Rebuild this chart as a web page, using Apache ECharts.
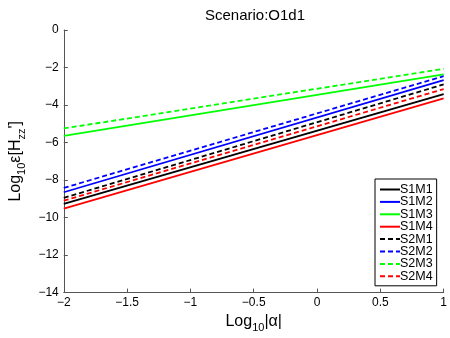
<!DOCTYPE html>
<html>
<head>
<meta charset="utf-8">
<script src="https://cdn.jsdelivr.net/npm/echarts@6/dist/echarts.min.js"></script>
<style>
  html, body { margin: 0; padding: 0; background: #fff; }
  #chart { width: 450px; height: 338px; }
</style>
</head>
<body>
<div id="chart"></div>
<script>
  // x positions (log10 |alpha|)
  var xValues = [-2, 1];
  var seriesNames = ['S1M1', 'S1M2', 'S1M3', 'S1M4', 'S2M1', 'S2M2', 'S2M3', 'S2M4'];
  // values at x=-2 and x=1
  var S1M1 = [-9.27, -3.42];
  var S1M2 = [-8.65, -2.67];
  var S1M3 = [-5.65, -2.37];
  var S1M4 = [-9.52, -3.65];
  var S2M1 = [-8.95, -2.90];
  var S2M2 = [-8.42, -2.46];
  var S2M3 = [-5.25, -2.07];
  var S2M4 = [-9.10, -3.15];
  var seriesValues = [S1M1, S1M2, S1M3, S1M4, S2M1, S2M2, S2M3, S2M4];
  var seriesColors = ['#000000', '#0000ff', '#00ff00', '#ff0000', '#000000', '#0000ff', '#00ff00', '#ff0000'];

  function minusFmt(v) {
    return String(v).replace('-', '\u2212');
  }

  var myChart = echarts.init(document.getElementById('chart'));

  var series = seriesNames.map(function (name, i) {
    return {
      name: name,
      type: 'line',
      symbol: 'none',
      silent: true,
      lineStyle: {
        color: seriesColors[i],
        width: 1.8,
        type: i < 4 ? 'solid' : [5, 3]
      },
      itemStyle: { color: seriesColors[i] },
      data: xValues.map(function (x, j) { return [x, seriesValues[i][j]]; })
    };
  });

  var option = {
    animation: false,
    textStyle: { fontFamily: 'Liberation Sans, Arial, sans-serif' },
    title: {
      text: 'Scenario:O1d1',
      left: 250,
      top: 3,
      textAlign: 'center',
      textStyle: { fontSize: 15, fontWeight: 'normal', color: '#000' }
    },
    grid: { left: 55, right: 5, top: 30, bottom: 41 },
    legend: {
      orient: 'vertical',
      left: 375,
      top: 179,
      padding: [4, 4, 3, 4],
      itemGap: -0.6,
      itemWidth: 20,
      itemHeight: 8,
      backgroundColor: '#fff',
      borderColor: '#000',
      borderWidth: 1,
      borderRadius: 0,
      itemStyle: { opacity: 0 },
      textStyle: { fontSize: 12.5, lineHeight: 11, color: '#000', padding: [0, 0, 0, -5] },
      data: seriesNames
    },
    xAxis: {
      type: 'value',
      min: -2,
      max: 1,
      interval: 0.5,
      name: '{b|Log}{s|10}{b||α|}',
      nameLocation: 'middle',
      nameGap: 17,
      nameTextStyle: {
        rich: {
          b: { fontSize: 16, color: '#000' },
          s: { fontSize: 11, color: '#000', padding: [12, 0, 0, 0] }
        }
      },
      axisLine: { onZero: false, lineStyle: { color: '#555', width: 1 } },
      axisTick: { inside: true, length: 4, lineStyle: { color: '#555' } },
      axisLabel: { color: '#000', fontSize: 12, margin: 4, formatter: minusFmt },
      splitLine: { show: false }
    },
    yAxis: {
      type: 'value',
      min: -14,
      max: 0,
      interval: 2,
      name: "{b|Log}{s|10}{b|ε[H}{s|zz}{b|']}",
      nameLocation: 'middle',
      nameGap: 30,
      nameTextStyle: {
        rich: {
          b: { fontSize: 16, color: '#000' },
          s: { fontSize: 11, color: '#000', padding: [12, 0, 0, 0] }
        }
      },
      axisLine: { show: true, onZero: false, lineStyle: { color: '#555', width: 1 } },
      axisTick: { show: true, inside: true, length: 4, lineStyle: { color: '#555' } },
      axisLabel: { color: '#000', fontSize: 12, margin: 5, formatter: minusFmt },
      splitLine: { show: false }
    },
    series: series
  };

  myChart.setOption(option);
</script>
</body>
</html>
